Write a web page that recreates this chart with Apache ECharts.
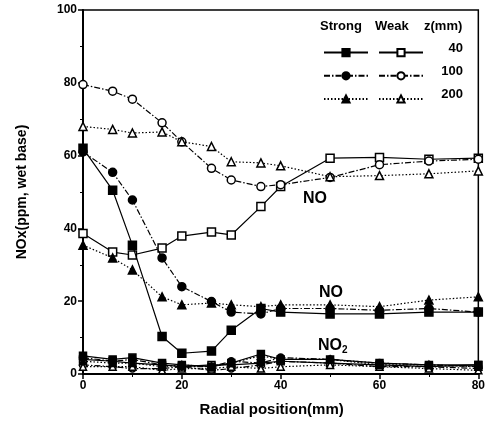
<!DOCTYPE html>
<html>
<head>
<meta charset="utf-8">
<script src="https://cdn.jsdelivr.net/npm/echarts@6/dist/echarts.min.js"></script>
<style>
  body { margin: 0; background: #fff; }
  #chart { width: 488px; height: 427px; }
</style>
</head>
<body>
<div id="chart"></div>
<script>
// radial positions (mm)
var xs = [0, 6, 10, 16, 20, 26, 30, 36, 40, 50, 60, 70, 80];

// NO, strong / weak swirl at z = 40, 100, 200 mm
var strongNO40  = [62, 50.5, 35.4, 10.3, 5.7, 6.3, 12, 18, 17, 16.5, 16.5, 17, 17];
var strongNO100 = [61, 55.4, 47.8, 31.9, 24, 19.9, 17, 16.5, 18, 18, 17.5, 18, 17];
var strongNO200 = [35.4, 31.9, 28.6, 21.2, 19, 19.5, 19, 18.5, 19, 19, 18.5, 20.3, 21.2];
var weakNO40    = [38.6, 33.5, 32.7, 34.6, 37.9, 39, 38.2, 46, 51.5, 59.3, 59.5, 59, 59.3];
var weakNO100   = [79.5, 77.7, 75.5, 69, 63.8, 56.5, 53.3, 51.5, 52, 54, 57.5, 58.5, 59];
var weakNO200   = [68, 67.2, 66.2, 66.5, 63.8, 62.5, 58.3, 58, 57.2, 54.2, 54.5, 55, 55.8];

// NO2
var strongNO2_40  = [5, 4, 4.5, 3, 2.5, 2, 3, 5.5, 4, 4, 3, 2.5, 2.5];
var strongNO2_100 = [4.5, 3.5, 4, 2.5, 2, 2, 3.5, 3, 4.5, 4, 3, 2.5, 2];
var strongNO2_200 = [3.5, 3, 3, 2, 2.5, 2, 3, 5, 4, 4, 2.5, 2.5, 2];
var weakNO2_40    = [4, 3.5, 3, 2.5, 2, 2.5, 2.5, 3, 3.5, 3, 2.5, 2, 2.5];
var weakNO2_100   = [2.5, 2, 1.5, 1.5, 2, 1, 1.5, 2.5, 3.5, 3, 2, 2, 1.5];
var weakNO2_200   = [2, 2, 2, 1, 1.5, 1.5, 2, 1.5, 2, 2.5, 2, 1.5, 1];

var zLabels = ['40', '100', '200'];

var font = 'Liberation Sans, Arial, sans-serif';
var dashDot = [6, 2, 1.5, 2];
var dotted = [1.5, 2];

function pairs(vals) {
  return vals.map(function (v, i) { return [xs[i], v]; });
}

function mk(name, vals, symbol, filled, dash, size) {
  return {
    name: name,
    type: 'line',
    data: pairs(vals),
    symbol: symbol,
    symbolSize: size || 8,
    showSymbol: true,
    animation: false,
    lineStyle: { color: '#000', width: 1.2, type: dash },
    itemStyle: {
      color: filled ? '#000' : '#fff',
      borderColor: '#000',
      borderWidth: 1.5
    },
    z: filled ? 3 : 2
  };
}

var series = [
  mk('S40', strongNO40, 'rect', true, 'solid'),
  mk('S100', strongNO100, 'circle', true, dashDot),
  mk('S200', strongNO200, 'triangle', true, dotted),
  mk('W40', weakNO40, 'rect', false, 'solid'),
  mk('W100', weakNO100, 'circle', false, dashDot),
  mk('W200', weakNO200, 'triangle', false, dotted),
  mk('S40b', strongNO2_40, 'rect', true, 'solid', 7),
  mk('S100b', strongNO2_100, 'circle', true, dashDot, 7),
  mk('S200b', strongNO2_200, 'triangle', true, dotted, 7),
  mk('W40b', weakNO2_40, 'rect', false, 'solid', 7),
  mk('W100b', weakNO2_100, 'circle', false, dashDot, 7),
  mk('W200b', weakNO2_200, 'triangle', false, dotted, 7)
];

var legendBase = {
  orient: 'vertical',
  top: 43,
  itemWidth: 44,
  itemHeight: 9,
  itemGap: 14,
  selectedMode: false,
  formatter: function () { return ''; },
  textStyle: { fontSize: 1 }
};

var chart = echarts.init(document.getElementById('chart'));
chart.setOption({
  animation: false,
  backgroundColor: '#fff',
  grid: {
    left: 83, right: 9, top: 10, bottom: 53,
    show: true, borderColor: '#000', borderWidth: 1.5
  },
  xAxis: {
    type: 'value',
    min: 0, max: 80, interval: 20,
    name: 'Radial position(mm)',
    nameLocation: 'middle',
    nameGap: 28,
    nameTextStyle: { fontFamily: font, fontWeight: 'bold', fontSize: 15, color: '#000', padding: [0, 18, 0, 0] },
    axisLine: { lineStyle: { color: '#000', width: 2 } },
    axisTick: { length: 5, lineStyle: { color: '#000', width: 1.5 } },
    minorTick: { show: true, splitNumber: 2, length: 3, lineStyle: { color: '#000' } },
    axisLabel: { fontFamily: font, fontWeight: 'bold', fontSize: 12, color: '#000', margin: 6 },
    splitLine: { show: false }
  },
  yAxis: {
    type: 'value',
    min: 0, max: 100, interval: 20,
    name: 'NOx(ppm, wet base)',
    nameLocation: 'middle',
    nameGap: 54,
    nameTextStyle: { fontFamily: font, fontWeight: 'bold', fontSize: 14, color: '#000' },
    axisLine: { lineStyle: { color: '#000', width: 2 } },
    axisTick: { length: 5, lineStyle: { color: '#000', width: 1.5 } },
    minorTick: { show: true, splitNumber: 2, length: 3, lineStyle: { color: '#000' } },
    axisLabel: { fontFamily: font, fontWeight: 'bold', fontSize: 12, color: '#000', margin: 6 },
    splitLine: { show: false }
  },
  legend: [
    Object.assign({ left: 318, data: ['S40', 'S100', 'S200'] }, legendBase),
    Object.assign({ left: 373, data: ['W40', 'W100', 'W200'] }, legendBase)
  ],
  graphic: [
    { type: 'text', left: 320, top: 20, style: { text: 'Strong', font: 'bold 13px ' + font, fill: '#000' } },
    { type: 'text', left: 375, top: 20, style: { text: 'Weak', font: 'bold 13px ' + font, fill: '#000' } },
    { type: 'text', left: 424, top: 20, style: { text: 'z(mm)', font: 'bold 13px ' + font, fill: '#000' } },
    { type: 'text', right: 25, top: 42, style: { text: zLabels[0], font: 'bold 13px ' + font, fill: '#000' } },
    { type: 'text', right: 25, top: 65, style: { text: zLabels[1], font: 'bold 13px ' + font, fill: '#000' } },
    { type: 'text', right: 25, top: 88, style: { text: zLabels[2], font: 'bold 13px ' + font, fill: '#000' } },
    { type: 'text', left: 303, top: 191, style: { text: 'NO', font: 'bold 16px ' + font, fill: '#000' } },
    { type: 'text', left: 319, top: 285, style: { text: 'NO', font: 'bold 16px ' + font, fill: '#000' } },
    { type: 'text', left: 318, top: 338, style: {
        text: '{a|NO}{b|2}',
        rich: {
          a: { font: 'bold 16px ' + font, fill: '#000' },
          b: { font: 'bold 10px ' + font, fill: '#000', padding: [9, 0, 0, 0] }
        }
      } }
  ],
  series: series
});
</script>
</body>
</html>
